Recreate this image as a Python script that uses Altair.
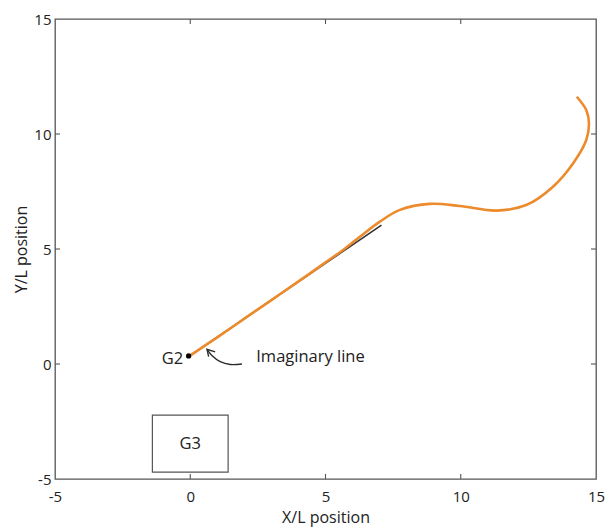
import altair as alt
import pandas as pd

# ---- data ----
orange_x = [-0.02, 1.0, 2.0, 3.0, 4.0, 5.0, 5.7, 6.27, 7.01, 7.75, 8.86, 9.96, 11.32, 12.42, 13.41, 14.15, 14.64, 14.74, 14.64, 14.29]
orange_y = [0.35, 1.16, 1.97, 2.78, 3.59, 4.42, 5.0, 5.53, 6.19, 6.70, 6.96, 6.87, 6.67, 6.91, 7.71, 8.72, 9.74, 10.46, 11.04, 11.62]

black_x = [-0.02, 7.07]
black_y = [0.35, 6.04]

arrow_x = [1.91, 1.48, 1.11, 0.81, 0.62]
arrow_y = [0.0, -0.02, 0.10, 0.36, 0.64]
head_x = [0.92, 0.62, 0.68]
head_y = [0.53, 0.64, 0.32]

g2_x, g2_y = -0.06, 0.35
g3_box = {"x": -1.40, "x2": 1.40, "y": -2.22, "y2": -4.70}

text_labels = ["G2", "Imaginary line", "G3"]
text_x = [-0.26, 2.44, 0.0]
text_y = [0.20, 0.30, -3.48]
text_align = ["right", "left", "center"]

axis_ticks = [-5, 0, 5, 10, 15]
inner_ticks = [0, 5, 10]

W, H = 541, 460
FONT = "Open Sans"

xs = alt.Scale(domain=[-5, 15], nice=False, zero=False)
ys = alt.Scale(domain=[-5, 15], nice=False, zero=False)

X = lambda f="x", **k: alt.X(f, type="quantitative", scale=xs, **k)
Y = lambda f="y", **k: alt.Y(f, type="quantitative", scale=ys, **k)

# axes carrier (labels + titles)
base_axes = alt.Chart(pd.DataFrame({"x": [g2_x], "y": [g2_y]})).mark_point(opacity=0).encode(
    x=X(axis=alt.Axis(values=axis_ticks, title="X/L position", ticks=False, domain=False, grid=False,
                      labelPadding=10, titlePadding=5, labelFlush=False,
                      labelExpr="'' + datum.value")),
    y=Y(axis=alt.Axis(values=axis_ticks, title="Y/L position", ticks=False, domain=False, grid=False,
                      labelPadding=4, titlePadding=4, labelFlush=False,
                      labelExpr="'' + datum.value")),
)

odf = pd.DataFrame({"x": orange_x, "y": orange_y, "o": range(len(orange_x))})
orange = alt.Chart(odf).mark_line(color="#EC8A2C", strokeWidth=2.6, interpolate="catmull-rom").encode(
    x=X(), y=Y(), order="o:Q")

bdf = pd.DataFrame({"x": black_x, "y": black_y, "o": range(len(black_x))})
black = alt.Chart(bdf).mark_line(color="#333333", strokeWidth=1.6).encode(x=X(), y=Y(), order="o:Q")

adf = pd.DataFrame({"x": arrow_x, "y": arrow_y, "o": range(len(arrow_x))})
arrow = alt.Chart(adf).mark_line(color="#2b2b2b", strokeWidth=1.4, interpolate="catmull-rom").encode(
    x=X(), y=Y(), order="o:Q")
hdf = pd.DataFrame({"x": head_x, "y": head_y, "o": range(len(head_x))})
head = alt.Chart(hdf).mark_line(color="#2b2b2b", strokeWidth=1.4).encode(x=X(), y=Y(), order="o:Q")

dot = alt.Chart(pd.DataFrame({"x": [g2_x], "y": [g2_y]})).mark_point(
    filled=True, color="black", size=28, opacity=1).encode(x=X(), y=Y())

box = alt.Chart(pd.DataFrame([g3_box])).mark_rect(fill="white", stroke="#555555", strokeWidth=1.2).encode(
    x=X(), x2="x2", y=Y(), y2="y2")

texts = []
for lab, tx, ty, al in zip(text_labels, text_x, text_y, text_align):
    texts.append(alt.Chart(pd.DataFrame({"t": [lab], "x": [tx], "y": [ty]})).mark_text(
        align=al, baseline="middle", font=FONT, fontSize=16.5, color="#222222").encode(
        x=X(), y=Y(), text="t:N"))

# inward ticks on all four sides
tk = pd.DataFrame({"v": inner_ticks})
TL = 5
tick_color = "#555555"
tb = alt.Chart(tk).mark_rule(color=tick_color, strokeWidth=1.1).encode(
    x=X("v"), y=alt.value(H), y2=alt.value(H - TL))
tt = alt.Chart(tk).mark_rule(color=tick_color, strokeWidth=1.1).encode(
    x=X("v"), y=alt.value(0), y2=alt.value(TL))
tl = alt.Chart(tk).mark_rule(color=tick_color, strokeWidth=1.1).encode(
    y=Y("v"), x=alt.value(0), x2=alt.value(TL))
tr = alt.Chart(tk).mark_rule(color=tick_color, strokeWidth=1.1).encode(
    y=Y("v"), x=alt.value(W - TL), x2=alt.value(W))

chart = alt.layer(base_axes, black, orange, arrow, head, dot, box, *texts, tb, tt, tl, tr).properties(
    width=W, height=H,
    background="white",
    autosize=alt.AutoSizeParams(type="none"),
    padding={"left": 55, "top": 19, "right": 9, "bottom": 48},
).configure_view(
    stroke="#555555", strokeWidth=1.3
).configure_axis(
    labelFont=FONT, titleFont=FONT, labelFontSize=15, titleFontSize=16,
    titleFontWeight="normal", labelColor="#222222", titleColor="#222222",
)

chart.save("out.html", embed_options={"renderer": "svg", "actions": False})
